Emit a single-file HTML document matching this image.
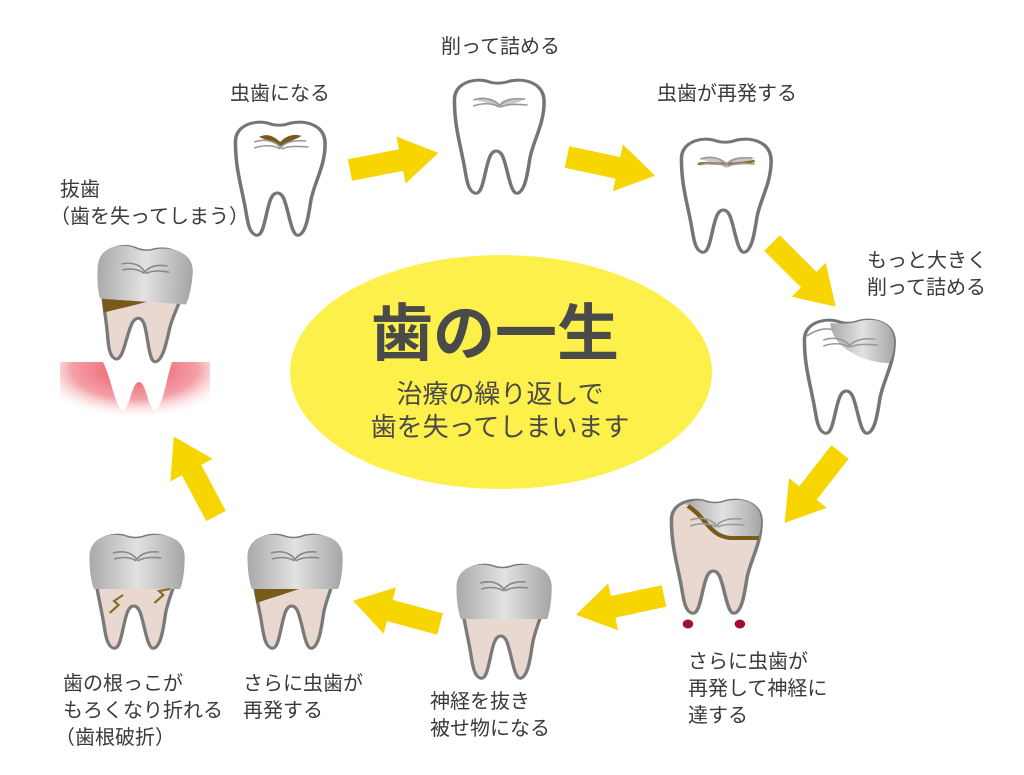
<!DOCTYPE html>
<html><head><meta charset="utf-8"><style>
html,body{margin:0;padding:0;background:#fff;}
svg{display:block;}
text{font-family:"Liberation Sans","Noto Sans CJK JP",sans-serif;fill:#3a3a3a;}
.l{font-size:20px;}
</style></head><body>
<svg width="1024" height="775" viewBox="0 0 1024 775" xmlns="http://www.w3.org/2000/svg">
<defs>
<linearGradient id="sil" x1="0" y1="0" x2="1" y2="0">
<stop offset="0" stop-color="#a9a9a9"/><stop offset="0.5" stop-color="#e2e2e2"/><stop offset="1" stop-color="#a5a5a5"/>
</linearGradient>
<radialGradient id="gum" cx="0.5" cy="0.1" r="0.7">
<stop offset="0" stop-color="#e85060"/><stop offset="0.6" stop-color="#f4a0a8"/><stop offset="1" stop-color="#fff" stop-opacity="0"/>
</radialGradient>
<path id="tooth" d="M8,22 C8,5 24,0 35,3 C42,6 48,6 55,3 C68,0 84,5 84,24 C84,46 75,62 72,80 C70,95 68,112 62,115 C56,118 54,96 50,82 C47,70 40,70 37,82 C33,96 32,118 25,115 C18,112 18,95 15,80 C12,62 8,46 8,22 Z"/>
<g id="crown">
<path d="M4,24 C4,4 22,-1 35,3 C42,6 48,6 55,3 C70,-1 89,4 89,24 C89,40 87,50 85,56 L8,56 C6,50 4,40 4,24 Z" fill="url(#sil)"/>
<path d="M25,20 C35,17 42,20 46,26 M26,26 C35,23 42,25 46,28 M46,27 C50,20 57,18 66,19 M47,28 C53,24 60,24 68,25" stroke="#888" stroke-width="1.6" fill="none"/>
</g>
<g id="grooves">
<path d="M24,22 C34,18 42,22 46,27 M24,28 C34,24 42,26 46,29 M46,28 C50,22 57,20 68,21 M47,29 C53,26 60,26 70,27" stroke="#999" stroke-width="1.6" fill="none"/>
</g>
<polygon id="arr" points="0,-11 52,-11 52,-24 90,0 52,24 52,11 0,11" fill="#f6d500"/>
</defs>

<ellipse cx="501" cy="372" rx="211" ry="117" fill="#fdf04a"/>
<text x="495" y="355" font-size="62" font-weight="bold" text-anchor="middle" style="fill:#4a4a4a">歯の一生</text>
<text x="500" y="403" font-size="26" text-anchor="middle" style="fill:#4a4a4a">治療の繰り返しで</text>
<text x="500" y="436" font-size="26" text-anchor="middle" style="fill:#4a4a4a">歯を失ってしまいます</text>

<use href="#arr" transform="translate(350,170) rotate(-11)"/>
<use href="#arr" transform="translate(567,157) rotate(12)"/>
<use href="#arr" transform="translate(772,243) rotate(45)"/>
<use href="#arr" transform="translate(840,452) rotate(128)"/>
<use href="#arr" transform="translate(664,596) rotate(168)"/>
<use href="#arr" transform="translate(440,624) rotate(195)"/>
<use href="#arr" transform="translate(216,516) rotate(242)"/>

<g transform="translate(226,120) scale(1.18,1)">
<use href="#tooth" fill="#fff" stroke="#757575" stroke-width="3"/>
<path d="M28,17 C36,12 42,18 46,22 C50,16 58,13 64,16 C58,20 52,22 46,26 C40,22 34,20 28,17Z" fill="#7a5a1a"/>
<use href="#grooves"/>
</g>
<g transform="translate(445,78) scale(1.18,1)">
<use href="#tooth" fill="#fff" stroke="#757575" stroke-width="3"/>
<path d="M26,22 C34,18 42,21 46,26 C50,20 58,19 68,21 C60,26 52,27 46,30 C40,26 34,24 26,22Z" fill="#c8c8c8"/>
<use href="#grooves"/>
</g>
<g transform="translate(672,137) scale(1.18,1)">
<use href="#tooth" fill="#fff" stroke="#757575" stroke-width="3"/>
<path d="M24,22 C34,18 42,21 46,26 C50,20 58,19 70,21 C62,27 52,28 46,31 C40,27 32,25 24,22Z" fill="#c8c8c8"/>
<path d="M22,27 C34,24 46,30 70,24" stroke="#8a6a20" stroke-width="2.5" fill="none"/>
<use href="#grooves"/>
</g>
<g transform="translate(795,318) scale(1.18,1)">
<use href="#tooth" fill="#fff" stroke="#757575" stroke-width="3"/>
<path d="M30,5 C40,6 48,6 55,3 C70,-1 84,5 84,24 C84,34 82,40 80,45 C65,45 50,38 40,28 C34,22 30,12 30,5Z" fill="url(#sil)"/>
<path d="M10,18 C20,10 28,10 32,12" stroke="#999" stroke-width="1.6" fill="none"/>
<use href="#grooves"/>
</g>
<g transform="translate(662,498) scale(1.18,1)">
<use href="#tooth" fill="#e9d8cf" stroke="#7a7a7a" stroke-width="3"/>
<path d="M20,6 C26,2 32,2 35,3 C42,6 48,6 55,3 C70,-1 84,5 84,24 C84,30 83,34 82,38 L50,38 C42,28 36,14 20,6Z" fill="url(#sil)"/>
<path d="M22,8 C38,20 40,38 58,40 L82,40" stroke="#7a5a1a" stroke-width="4" fill="none"/>
<use href="#grooves"/>
<circle cx="22" cy="126" r="4.5" fill="#a0102a"/>
<circle cx="66" cy="126" r="4.5" fill="#a0102a"/>
</g>
<g transform="translate(452,563) scale(1.12,1)">
<use href="#tooth" fill="#e9d8cf" stroke="#7a7a7a" stroke-width="3"/>
<use href="#crown"/>
</g>
<g transform="translate(243,533) scale(1.12,1)">
<use href="#tooth" fill="#e9d8cf" stroke="#7a7a7a" stroke-width="3"/>
<path d="M10,56 L50,56 C35,62 22,66 12,70 Z" fill="#7a5a1a"/>
<use href="#crown"/>
</g>
<g transform="translate(85,533) scale(1.12,1)">
<use href="#tooth" fill="#e9d8cf" stroke="#7a7a7a" stroke-width="3"/>
<use href="#crown"/>
<path d="M22,80 L30,72 L26,68 L34,62 M62,70 L70,62 L66,58 L76,56" stroke="#8a6a20" stroke-width="2" fill="none"/>
</g>
<rect x="60" y="362" width="150" height="72" fill="url(#gum)"/>
<path d="M103,362 C112,380 116,412 124,410 C130,407 132,382 139,382 C146,382 148,407 154,410 C162,412 166,380 172,362 Z" fill="#fff"/>
<g transform="translate(95,242) rotate(4) scale(1.12,1)">
<use href="#tooth" fill="#e9d8cf" stroke="#7a7a7a" stroke-width="3"/>
<path d="M10,56 L50,56 C35,62 22,66 12,70 Z" fill="#7a5a1a"/>
<use href="#crown"/>
</g>

<text class="l" x="441" y="53">削って詰める</text>
<text class="l" x="230" y="100">虫歯になる</text>
<text class="l" x="657" y="100">虫歯が再発する</text>
<text class="l" x="60" y="196">抜歯</text>
<text class="l" x="50" y="223">（歯を失ってしまう）</text>
<text class="l" x="867" y="267">もっと大きく</text>
<text class="l" x="867" y="294">削って詰める</text>
<text class="l" x="688" y="668">さらに虫歯が</text>
<text class="l" x="688" y="695">再発して神経に</text>
<text class="l" x="688" y="722">達する</text>
<text class="l" x="430" y="708">神経を抜き</text>
<text class="l" x="430" y="735">被せ物になる</text>
<text class="l" x="243" y="690">さらに虫歯が</text>
<text class="l" x="243" y="717">再発する</text>
<text class="l" x="63" y="690">歯の根っこが</text>
<text class="l" x="63" y="717">もろくなり折れる</text>
<text class="l" x="55" y="744">（歯根破折）</text>
</svg>
</body></html>
